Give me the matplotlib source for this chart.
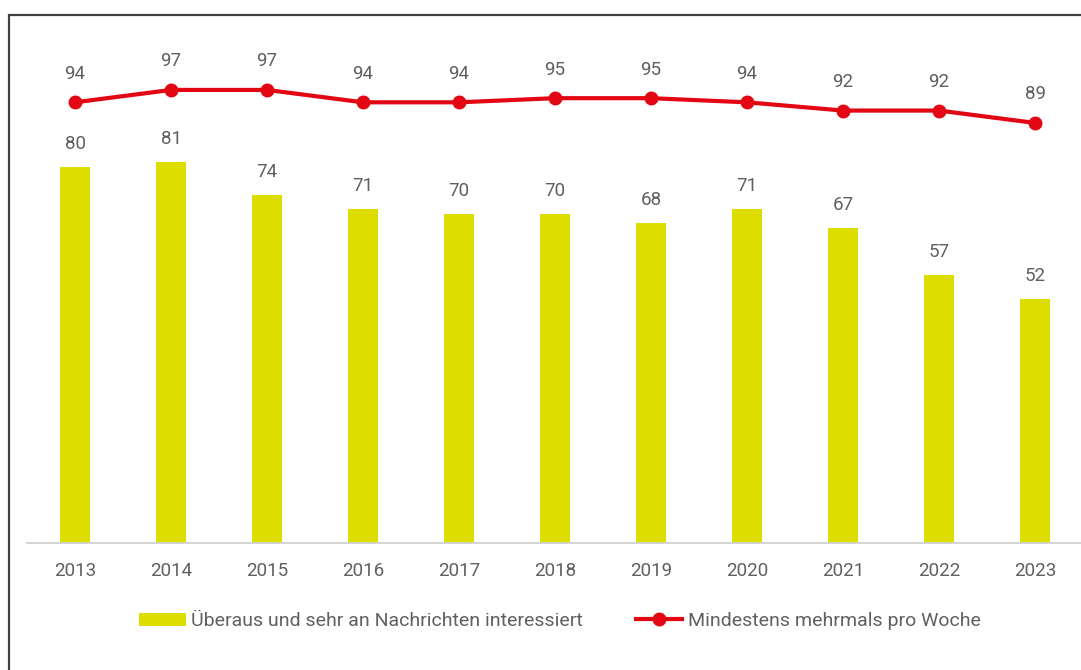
import matplotlib.pyplot as plt
from matplotlib.patches import Rectangle

plt.rcParams['font.family'] = ['Roboto', 'DejaVu Sans']

# Daten
years = ['2013', '2014', '2015', '2016', '2017', '2018', '2019', '2020', '2021', '2022', '2023']
interest = [80, 81, 74, 71, 70, 70, 68, 71, 67, 57, 52]
weekly = [94, 97, 97, 94, 94, 95, 95, 94, 92, 92, 89]
label_bar = 'Überaus und sehr an Nachrichten interessiert'
label_line = 'Mindestens mehrmals pro Woche'

yellow = '#dddd00'
red = '#e30613'
grey = '#606060'
fs = 13.5

W, H = 1081, 670
fig = plt.figure(figsize=(W / 100, H / 100), dpi=100)

# Rahmen (nur links und oben sichtbar)
fig.patches.append(Rectangle((8.5 / W, -0.2), 1.5, 1.2 - 14.5 / H, transform=fig.transFigure,
                             fill=False, edgecolor='#404040', linewidth=1.6))

ax = fig.add_axes([27 / W, (H - 543) / H, 1056 / W, (543 - 40) / H])
x = list(range(len(years)))
ax.bar(x, interest, width=0.32, color=yellow, label=label_bar, zorder=2)
ax.set_xlim(-0.5, len(years) - 0.5)
ax.set_ylim(0, 107)
for xi, v in zip(x, interest):
    ax.annotate(str(v), (xi, v), xytext=(0, 10), textcoords='offset points',
                ha='center', va='bottom', fontsize=fs, color=grey)

ax.set_xticks(x)
ax.set_xticklabels(years, fontsize=fs, color=grey)
ax.tick_params(axis='x', length=0, pad=14)
ax.set_yticks([])
for s in ['left', 'right', 'top']:
    ax.spines[s].set_visible(False)
ax.spines['bottom'].set_color('#d0d0d0')
ax.spines['bottom'].set_linewidth(1.3)

ax2 = ax.twinx()
ax2.plot(x, weekly, color=red, linewidth=3, marker='o', markersize=9,
         label=label_line, zorder=3)
ax2.set_ylim(-12.8, 109.1)
ax2.set_yticks([])
for s in ['left', 'right', 'top', 'bottom']:
    ax2.spines[s].set_visible(False)
for xi, v in zip(x, weekly):
    ax2.annotate(str(v), (xi, v), xytext=(0, 14), textcoords='offset points',
                 ha='center', va='bottom', fontsize=fs, color=grey)

h1, l1 = ax.get_legend_handles_labels()
h2, l2 = ax2.get_legend_handles_labels()
fig.legend(h1 + h2, l1 + l2, loc='center', bbox_to_anchor=(560 / W, 1 - 621 / H),
           ncol=2, frameon=False, fontsize=14, labelcolor=grey,
           handlelength=2.4, handleheight=0.65, handletextpad=0.3, columnspacing=2.7)

fig.savefig('out.png', dpi=100)
